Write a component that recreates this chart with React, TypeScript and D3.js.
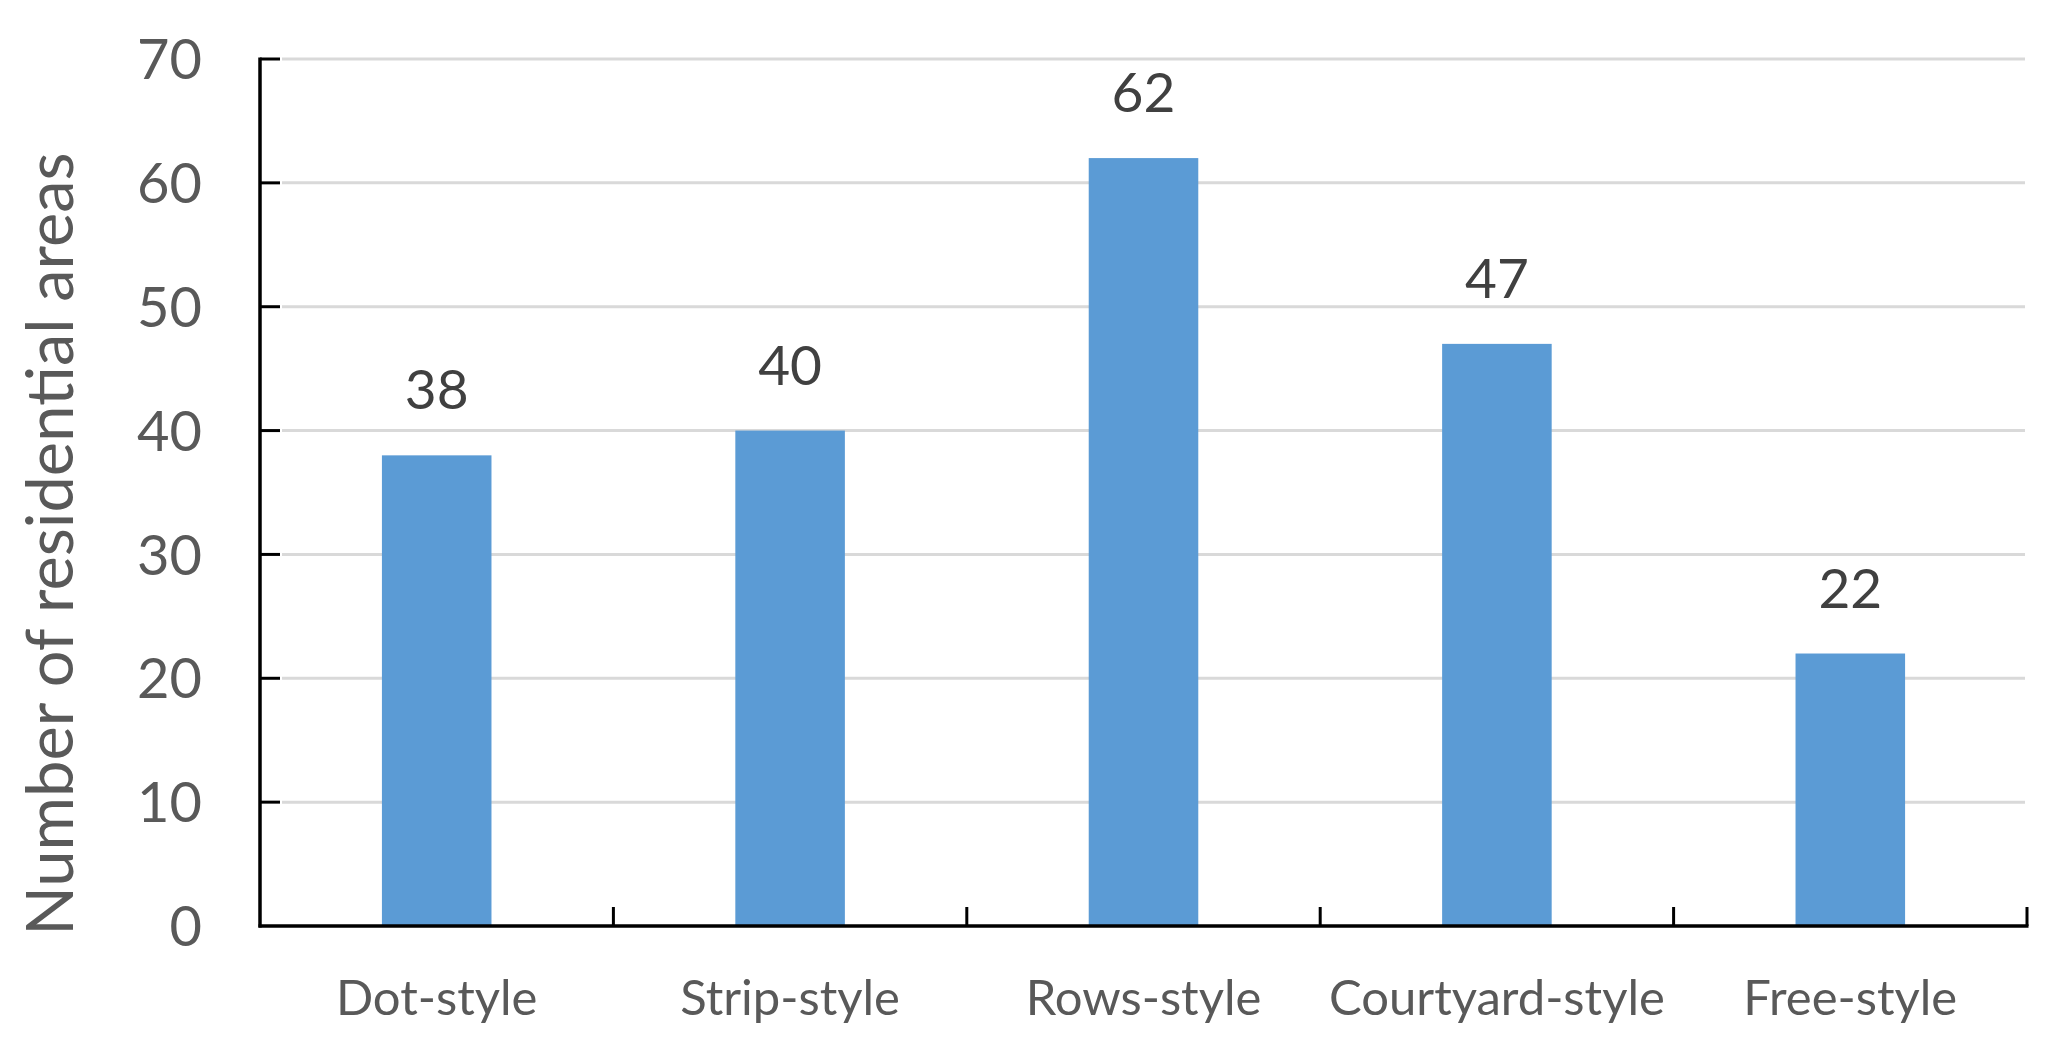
import React, { useEffect, useRef } from 'react'
import * as d3 from 'd3'

const categories = ['Dot-style', 'Strip-style', 'Rows-style', 'Courtyard-style', 'Free-style']
const values = [38, 40, 62, 47, 22]
const yTicks = [0, 10, 20, 30, 40, 50, 60, 70]
const yTitle = 'Number of residential areas'

const FONT = 'Lato, "Open Sans", sans-serif'

const App = () => {
  const svgRef = useRef<SVGSVGElement | null>(null)

  useEffect(() => {
    document.body.style.margin = '0'
    const svg = d3.select(svgRef.current)
    svg.selectAll('*').remove()

    const W = 2049
    const H = 1046
    const margin = { top: 59, right: 22, bottom: 120, left: 260 }

    svg.attr('width', W).attr('height', H)
    svg.append('rect').attr('width', W).attr('height', H).attr('fill', '#fff')

    const x = d3
      .scaleBand()
      .domain(categories)
      .range([margin.left, W - margin.right])
      .paddingInner(0)
      .paddingOuter(0)

    const y = d3
      .scaleLinear()
      .domain([0, 70])
      .range([H - margin.bottom, margin.top])

    const barW = x.bandwidth() * 0.31

    // gridlines
    svg
      .append('g')
      .selectAll('line')
      .data(yTicks.filter((t) => t > 0))
      .enter()
      .append('line')
      .attr('x1', margin.left + 22)
      .attr('x2', W - margin.right - 2)
      .attr('y1', (d) => y(d))
      .attr('y2', (d) => y(d))
      .attr('stroke', '#d9d9d9')
      .attr('stroke-width', 3)

    // bars
    svg
      .append('g')
      .selectAll('rect')
      .data(values)
      .enter()
      .append('rect')
      .attr('x', (d, i) => (x(categories[i]) as number) + x.bandwidth() / 2 - barW / 2)
      .attr('y', (d) => y(d))
      .attr('width', barW)
      .attr('height', (d) => y(0) - y(d))
      .attr('fill', '#5b9bd5')

    // value labels
    svg
      .append('g')
      .selectAll('text')
      .data(values)
      .enter()
      .append('text')
      .attr('x', (d, i) => (x(categories[i]) as number) + x.bandwidth() / 2)
      .attr('y', (d) => y(d) - 46)
      .attr('text-anchor', 'middle')
      .style('font-family', FONT)
      .style('font-size', '55px')
      .style('fill', '#404040')
      .text((d) => d)

    // axes
    const axisColor = '#000'
    svg
      .append('line')
      .attr('x1', margin.left)
      .attr('x2', margin.left)
      .attr('y1', y(70) - 1.5)
      .attr('y2', y(0) + 1.5)
      .attr('stroke', axisColor)
      .attr('stroke-width', 3.5)

    svg
      .append('line')
      .attr('x1', margin.left - 1.5)
      .attr('x2', W - margin.right + 1.5)
      .attr('y1', y(0))
      .attr('y2', y(0))
      .attr('stroke', axisColor)
      .attr('stroke-width', 3.5)

    // y ticks (inside)
    svg
      .append('g')
      .selectAll('line')
      .data(yTicks.filter((t) => t > 0))
      .enter()
      .append('line')
      .attr('x1', margin.left)
      .attr('x2', margin.left + 20)
      .attr('y1', (d) => y(d))
      .attr('y2', (d) => y(d))
      .attr('stroke', axisColor)
      .attr('stroke-width', 3)

    // x ticks (inside) at band boundaries
    svg
      .append('g')
      .selectAll('line')
      .data(categories)
      .enter()
      .append('line')
      .attr('x1', (d) => (x(d) as number) + x.bandwidth())
      .attr('x2', (d) => (x(d) as number) + x.bandwidth())
      .attr('y1', y(0))
      .attr('y2', y(0) - 19)
      .attr('stroke', axisColor)
      .attr('stroke-width', 3)

    // y tick labels
    svg
      .append('g')
      .selectAll('text')
      .data(yTicks)
      .enter()
      .append('text')
      .attr('x', margin.left - 58)
      .attr('y', (d) => y(d))
      .attr('dy', '0.36em')
      .attr('text-anchor', 'end')
      .style('font-family', FONT)
      .style('font-size', '56px')
      .style('fill', '#595959')
      .text((d) => d)

    // category labels
    svg
      .append('g')
      .selectAll('text')
      .data(categories)
      .enter()
      .append('text')
      .attr('x', (d) => (x(d) as number) + x.bandwidth() / 2)
      .attr('y', 1015)
      .attr('text-anchor', 'middle')
      .style('font-family', FONT)
      .style('font-size', '49px')
      .style('fill', '#595959')
      .text((d) => d)

    // y title
    svg
      .append('text')
      .attr('transform', `translate(73, 544) rotate(-90)`)
      .attr('text-anchor', 'middle')
      .style('font-family', FONT)
      .style('font-size', '65px')
      .style('fill', '#595959')
      .text(yTitle)
  }, [])

  return <svg ref={svgRef} style={{ display: 'block' }}></svg>
}

export default App
